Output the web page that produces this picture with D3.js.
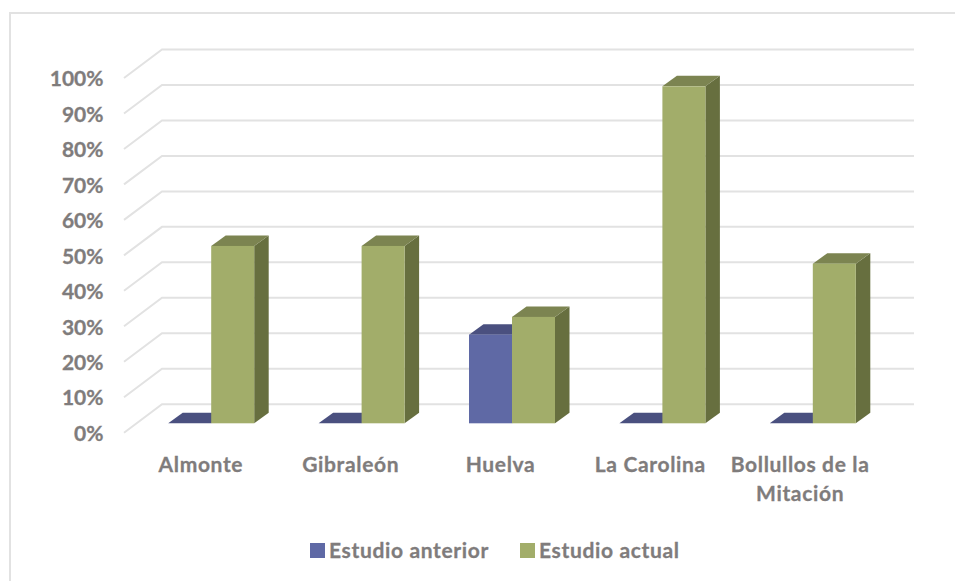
<!DOCTYPE html>
<html>
<head>
<meta charset="utf-8">
<script src="https://cdn.jsdelivr.net/npm/d3@7"></script>
<style>
  html, body { margin: 0; padding: 0; background: #fff; }
  svg { display: block; }
  text { font-family: Lato, "Open Sans", sans-serif; font-weight: 700; fill: #7f7c7c; stroke: #7f7c7c; stroke-width: 0.3px; }
</style>
</head>
<body>
<svg id="chart"></svg>
<script>
const categories = ["Almonte", "Gibraleón", "Huelva", "La Carolina", "Bollullos de la Mitación"];
const seriesNames = ["Estudio anterior", "Estudio actual"];
const anterior = [0, 0, 25, 0, 0];
const actual = [50, 50, 30, 95, 45];
const yTicks = [0, 10, 20, 30, 40, 50, 60, 70, 80, 90, 100];

const width = 955;
const height = 581;

// colours: front, top, side
const shades = [
    { front: "#5f69a5", top: "#4a507f", side: "#474d7a" },
    { front: "#a2ad6a", top: "#7c8451", side: "#676f3f" },
];

const svg = d3.select("#chart")
    .attr("width", width)
    .attr("height", height);

// outer frame only shows on top and left
svg.append("path")
    .attr("d", "M955,13H10V581")
    .attr("fill", "none")
    .attr("stroke", "#e2e2e2")
    .attr("stroke-width", 2);

const yScale = d3.scaleLinear().domain([0, 100]).range([432.7, 78]);
// labels sit a little left of the bars because of the 3d depth
const xLabels = d3.scaleBand().domain(categories).range([126, 875]);
const xBars = d3.scaleBand().domain(categories).range([136, 888]);

// walls of the 3d box
const wall = { left: 124, dx: 38, dy: 28.5, right: 914 };
// bars sit part way into the box
const bar = { width: 43, dx: 14.5, dy: 10.5, shift: -9.4 };

svg.append("g")
    .selectAll("path")
    .data(yTicks)
    .join("path")
    .attr("d", d => {
        const y = yScale(d);
        return `M${wall.left},${y}L${wall.left + wall.dx},${y - wall.dy}H${wall.right}`;
    })
    .attr("fill", "none")
    .attr("stroke", "#e2e2e2")
    .attr("stroke-width", 2);

const yAxis = d3.axisLeft(yScale).tickValues(yTicks).tickSize(0).tickFormat(d => d + "%");
svg.append("g")
    .attr("transform", "translate(103.5,1)")
    .call(yAxis)
    .call(g => g.select(".domain").remove())
    .selectAll("text")
    .attr("font-size", 21)
    .attr("font-family", null)
    .attr("x", 0);

function drawBar(g, value, left, shade) {
    const base = yScale(0) + bar.shift;
    const top = yScale(value) + bar.shift;
    const w = bar.width;
    g.append("path")
        .attr("d", `M${left + w},${top}l${bar.dx},${-bar.dy}V${base - bar.dy}l${-bar.dx},${bar.dy}Z`)
        .attr("fill", shade.side);
    g.append("path")
        .attr("d", `M${left},${top}l${bar.dx},${-bar.dy}h${w}l${-bar.dx},${bar.dy}Z`)
        .attr("fill", shade.top);
    g.append("rect")
        .attr("x", left)
        .attr("y", top)
        .attr("width", w)
        .attr("height", base - top)
        .attr("fill", shade.front);
}

categories.forEach((c, i) => {
    const g = svg.append("g");
    const center = xBars(c) + xBars.bandwidth() / 2;
    drawBar(g, anterior[i], center - bar.width, shades[0]);
    drawBar(g, actual[i], center, shades[1]);
});

// category labels, wrapped to the band
const xAxis = d3.axisBottom(xLabels).tickSize(0);
svg.append("g")
    .attr("transform", "translate(0,456)")
    .call(xAxis)
    .call(g => g.select(".domain").remove())
    .selectAll("text")
    .attr("font-size", 21)
    .attr("font-family", null)
    .attr("letter-spacing", 0.65)
    .attr("y", 0)
    .attr("dy", null)
    .each(function (d) {
        const words = d.split(" ");
        const lines = d.length > 14 ? [words.slice(0, 3).join(" "), words.slice(3).join(" ")] : [d];
        const t = d3.select(this).text(null);
        lines.forEach((l, k) => {
            t.append("tspan").attr("x", 0).attr("dy", k ? 29 : "0.75em").text(l);
        });
    });

// legend
const legendX = [310, 520];
const legend = svg.append("g")
    .selectAll("g")
    .data(seriesNames)
    .join("g")
    .attr("transform", (d, i) => `translate(${legendX[i]},543)`);
legend.append("rect")
    .attr("width", 15)
    .attr("height", 15)
    .attr("fill", (d, i) => shades[i].front);
legend.append("text")
    .attr("x", 19)
    .attr("y", 15)
    .attr("font-size", 21)
    .attr("letter-spacing", 0.65)
    .text(d => d);
</script>
</body>
</html>
